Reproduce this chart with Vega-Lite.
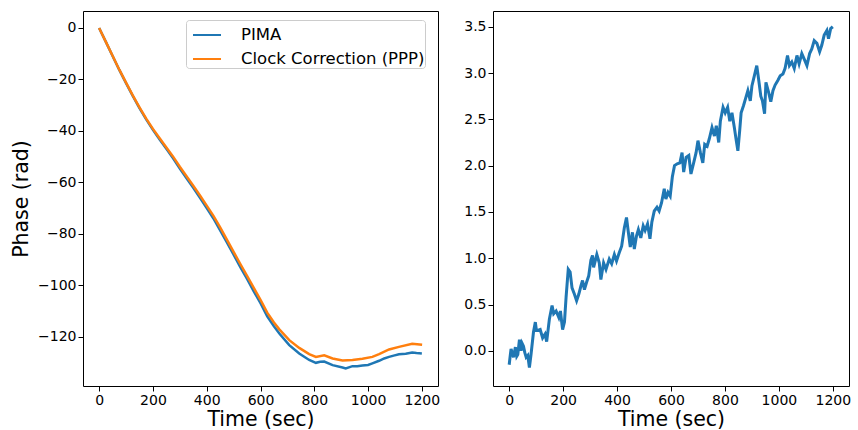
{
  "$schema": "https://vega.github.io/schema/vega-lite/v6.json",
  "padding": {"left": 11, "top": 10, "right": 5, "bottom": 3},
  "background": "white",
  "config": {
    "font": "DejaVu Sans",
    "view": {"stroke": "black", "strokeWidth": 1},
    "axis": {
      "domain": false, "grid": false, "tickColor": "black", "tickSize": 5, "tickWidth": 1,
      "labelFontSize": 14, "labelColor": "black", "labelFont": "DejaVu Sans",
      "titleFont": "DejaVu Sans", "titleFontSize": 20.5, "titleFontWeight": "normal", "titleColor": "black",
      "labelPadding": 2, "labelFlush": false, "labelOverlap": false
    }
  },
  "spacing": 55,
  "bounds": "flush",
  "hconcat": [
    {
      "width": 355,
      "height": 375,
      "data": {"values": [
        {"t": 0, "phase": 0, "series": "PIMA"},
        {"t": 25, "phase": -5.4, "series": "PIMA"},
        {"t": 50, "phase": -10.9, "series": "PIMA"},
        {"t": 75, "phase": -16.3, "series": "PIMA"},
        {"t": 100, "phase": -21.4, "series": "PIMA"},
        {"t": 125, "phase": -26.4, "series": "PIMA"},
        {"t": 150, "phase": -31.1, "series": "PIMA"},
        {"t": 175, "phase": -35.5, "series": "PIMA"},
        {"t": 200, "phase": -39.6, "series": "PIMA"},
        {"t": 225, "phase": -43.3, "series": "PIMA"},
        {"t": 250, "phase": -46.9, "series": "PIMA"},
        {"t": 275, "phase": -50.6, "series": "PIMA"},
        {"t": 300, "phase": -54.6, "series": "PIMA"},
        {"t": 325, "phase": -58.4, "series": "PIMA"},
        {"t": 350, "phase": -62.1, "series": "PIMA"},
        {"t": 375, "phase": -66.0, "series": "PIMA"},
        {"t": 400, "phase": -70.0, "series": "PIMA"},
        {"t": 425, "phase": -74.0, "series": "PIMA"},
        {"t": 450, "phase": -78.6, "series": "PIMA"},
        {"t": 475, "phase": -83.3, "series": "PIMA"},
        {"t": 500, "phase": -88.1, "series": "PIMA"},
        {"t": 525, "phase": -92.9, "series": "PIMA"},
        {"t": 550, "phase": -97.5, "series": "PIMA"},
        {"t": 575, "phase": -102.3, "series": "PIMA"},
        {"t": 600, "phase": -106.9, "series": "PIMA"},
        {"t": 625, "phase": -112.0, "series": "PIMA"},
        {"t": 650, "phase": -115.9, "series": "PIMA"},
        {"t": 670, "phase": -118.7, "series": "PIMA"},
        {"t": 707, "phase": -123.2, "series": "PIMA"},
        {"t": 744, "phase": -126.5, "series": "PIMA"},
        {"t": 781, "phase": -129.0, "series": "PIMA"},
        {"t": 806, "phase": -130.1, "series": "PIMA"},
        {"t": 822, "phase": -129.7, "series": "PIMA"},
        {"t": 837, "phase": -129.6, "series": "PIMA"},
        {"t": 868, "phase": -131.0, "series": "PIMA"},
        {"t": 905, "phase": -131.9, "series": "PIMA"},
        {"t": 917, "phase": -132.3, "series": "PIMA"},
        {"t": 942, "phase": -131.4, "series": "PIMA"},
        {"t": 960, "phase": -131.4, "series": "PIMA"},
        {"t": 979, "phase": -131.1, "series": "PIMA"},
        {"t": 1000, "phase": -130.9, "series": "PIMA"},
        {"t": 1016, "phase": -130.3, "series": "PIMA"},
        {"t": 1041, "phase": -129.3, "series": "PIMA"},
        {"t": 1060, "phase": -128.4, "series": "PIMA"},
        {"t": 1078, "phase": -127.8, "series": "PIMA"},
        {"t": 1095, "phase": -127.3, "series": "PIMA"},
        {"t": 1115, "phase": -126.8, "series": "PIMA"},
        {"t": 1140, "phase": -126.6, "series": "PIMA"},
        {"t": 1164, "phase": -126.1, "series": "PIMA"},
        {"t": 1180, "phase": -126.3, "series": "PIMA"},
        {"t": 1200, "phase": -126.5, "series": "PIMA"},
        {"t": 0, "phase": 0, "series": "Clock Correction (PPP)"},
        {"t": 25, "phase": -5.4, "series": "Clock Correction (PPP)"},
        {"t": 50, "phase": -10.8, "series": "Clock Correction (PPP)"},
        {"t": 75, "phase": -16.2, "series": "Clock Correction (PPP)"},
        {"t": 100, "phase": -21.2, "series": "Clock Correction (PPP)"},
        {"t": 125, "phase": -26.2, "series": "Clock Correction (PPP)"},
        {"t": 150, "phase": -30.8, "series": "Clock Correction (PPP)"},
        {"t": 175, "phase": -35.2, "series": "Clock Correction (PPP)"},
        {"t": 200, "phase": -39.2, "series": "Clock Correction (PPP)"},
        {"t": 225, "phase": -42.8, "series": "Clock Correction (PPP)"},
        {"t": 250, "phase": -46.4, "series": "Clock Correction (PPP)"},
        {"t": 275, "phase": -50.0, "series": "Clock Correction (PPP)"},
        {"t": 300, "phase": -53.9, "series": "Clock Correction (PPP)"},
        {"t": 325, "phase": -57.6, "series": "Clock Correction (PPP)"},
        {"t": 350, "phase": -61.3, "series": "Clock Correction (PPP)"},
        {"t": 375, "phase": -65.1, "series": "Clock Correction (PPP)"},
        {"t": 400, "phase": -69.0, "series": "Clock Correction (PPP)"},
        {"t": 425, "phase": -73.0, "series": "Clock Correction (PPP)"},
        {"t": 450, "phase": -77.5, "series": "Clock Correction (PPP)"},
        {"t": 475, "phase": -82.2, "series": "Clock Correction (PPP)"},
        {"t": 500, "phase": -87.0, "series": "Clock Correction (PPP)"},
        {"t": 525, "phase": -91.7, "series": "Clock Correction (PPP)"},
        {"t": 550, "phase": -96.3, "series": "Clock Correction (PPP)"},
        {"t": 575, "phase": -101.0, "series": "Clock Correction (PPP)"},
        {"t": 600, "phase": -105.6, "series": "Clock Correction (PPP)"},
        {"t": 625, "phase": -110.6, "series": "Clock Correction (PPP)"},
        {"t": 650, "phase": -114.4, "series": "Clock Correction (PPP)"},
        {"t": 670, "phase": -117.1, "series": "Clock Correction (PPP)"},
        {"t": 707, "phase": -121.3, "series": "Clock Correction (PPP)"},
        {"t": 744, "phase": -124.3, "series": "Clock Correction (PPP)"},
        {"t": 781, "phase": -126.7, "series": "Clock Correction (PPP)"},
        {"t": 806, "phase": -127.8, "series": "Clock Correction (PPP)"},
        {"t": 837, "phase": -127.2, "series": "Clock Correction (PPP)"},
        {"t": 868, "phase": -128.4, "series": "Clock Correction (PPP)"},
        {"t": 905, "phase": -129.2, "series": "Clock Correction (PPP)"},
        {"t": 942, "phase": -129.0, "series": "Clock Correction (PPP)"},
        {"t": 979, "phase": -128.5, "series": "Clock Correction (PPP)"},
        {"t": 1016, "phase": -127.8, "series": "Clock Correction (PPP)"},
        {"t": 1041, "phase": -126.7, "series": "Clock Correction (PPP)"},
        {"t": 1078, "phase": -124.9, "series": "Clock Correction (PPP)"},
        {"t": 1115, "phase": -123.9, "series": "Clock Correction (PPP)"},
        {"t": 1164, "phase": -122.7, "series": "Clock Correction (PPP)"},
        {"t": 1201, "phase": -123.1, "series": "Clock Correction (PPP)"}
      ]},
      "encoding": {
        "x": {"field": "t", "type": "quantitative", "scale": {"domain": [-60, 1260], "nice": false, "zero": false},
              "axis": {"values": [0, 200, 400, 600, 800, 1000, 1200], "format": "d", "title": "Time (sec)", "titlePadding": 2}},
        "y": {"field": "phase", "type": "quantitative", "scale": {"domain": [-139.1, 6.6], "nice": false, "zero": false},
              "axis": {"values": [0, -20, -40, -60, -80, -100, -120], "title": "Phase (rad)", "titlePadding": 6}},
        "color": {"field": "series", "type": "nominal",
                  "scale": {"domain": ["PIMA", "Clock Correction (PPP)"], "range": ["#1f77b4", "#ff7f0e"]},
                  "legend": {"title": null, "orient": "none", "legendX": 103, "legendY": 9,
                             "symbolType": "stroke", "symbolSize": 784, "symbolStrokeWidth": 2, "symbolOffset": 6,
                             "labelFontSize": 16.5, "labelFont": "DejaVu Sans", "labelColor": "black", "labelLimit": 400,
                             "labelExpr": "datum.label + ' '",
                             "labelOffset": 19, "rowPadding": 0, "padding": 0,
                             "strokeColor": "#cccccc", "fillColor": "white", "cornerRadius": 3}}
      },
      "layer": [
        {"transform": [{"filter": "datum.series === 'PIMA'"}], "mark": {"type": "line", "strokeWidth": 2.5}},
        {"transform": [{"filter": "datum.series !== 'PIMA'"}], "mark": {"type": "line", "strokeWidth": 2.5}}
      ]
    },
    {
      "width": 356,
      "height": 375,
      "data": {"values": [
        {"t": 0, "v": -0.15}, {"t": 4, "v": -0.05}, {"t": 7, "v": 0.02}, {"t": 12, "v": -0.03}, {"t": 16, "v": -0.07},
        {"t": 23, "v": 0.04}, {"t": 28, "v": -0.06}, {"t": 32, "v": -0.04}, {"t": 38, "v": 0.12}, {"t": 44, "v": 0.0},
        {"t": 48, "v": 0.08}, {"t": 53, "v": 0.05}, {"t": 58, "v": -0.02}, {"t": 63, "v": -0.07}, {"t": 69, "v": -0.05},
        {"t": 75, "v": -0.18}, {"t": 81, "v": -0.04}, {"t": 90, "v": 0.2}, {"t": 97, "v": 0.31}, {"t": 101, "v": 0.22},
        {"t": 106, "v": 0.22}, {"t": 115, "v": 0.23}, {"t": 124, "v": 0.14}, {"t": 133, "v": 0.18}, {"t": 139, "v": 0.1},
        {"t": 149, "v": 0.34}, {"t": 159, "v": 0.49}, {"t": 165, "v": 0.4}, {"t": 174, "v": 0.43}, {"t": 184, "v": 0.36},
        {"t": 190, "v": 0.43}, {"t": 198, "v": 0.23}, {"t": 205, "v": 0.31}, {"t": 211, "v": 0.58}, {"t": 219, "v": 0.88},
        {"t": 226, "v": 0.85}, {"t": 233, "v": 0.68}, {"t": 242, "v": 0.61}, {"t": 250, "v": 0.54}, {"t": 258, "v": 0.61},
        {"t": 266, "v": 0.7}, {"t": 272, "v": 0.76}, {"t": 279, "v": 0.66}, {"t": 287, "v": 0.74}, {"t": 295, "v": 0.81},
        {"t": 303, "v": 0.98}, {"t": 309, "v": 1.03}, {"t": 313, "v": 0.9}, {"t": 325, "v": 1.04}, {"t": 334, "v": 0.95},
        {"t": 340, "v": 0.77}, {"t": 350, "v": 0.95}, {"t": 359, "v": 0.88}, {"t": 371, "v": 0.99}, {"t": 380, "v": 0.94},
        {"t": 390, "v": 1.04}, {"t": 398, "v": 0.97}, {"t": 408, "v": 1.06}, {"t": 417, "v": 1.13}, {"t": 427, "v": 1.33},
        {"t": 435, "v": 1.44}, {"t": 441, "v": 1.3}, {"t": 449, "v": 1.12}, {"t": 457, "v": 1.28}, {"t": 464, "v": 1.1},
        {"t": 472, "v": 1.24}, {"t": 479, "v": 1.31}, {"t": 488, "v": 1.22}, {"t": 497, "v": 1.35}, {"t": 504, "v": 1.3},
        {"t": 513, "v": 1.37}, {"t": 522, "v": 1.21}, {"t": 529, "v": 1.39}, {"t": 538, "v": 1.51}, {"t": 548, "v": 1.55},
        {"t": 556, "v": 1.51}, {"t": 565, "v": 1.6}, {"t": 575, "v": 1.75}, {"t": 581, "v": 1.64}, {"t": 589, "v": 1.71},
        {"t": 597, "v": 1.67}, {"t": 605, "v": 1.88}, {"t": 613, "v": 2.0}, {"t": 623, "v": 2.02}, {"t": 633, "v": 2.03},
        {"t": 641, "v": 2.14}, {"t": 647, "v": 1.93}, {"t": 656, "v": 2.09}, {"t": 666, "v": 2.11}, {"t": 674, "v": 1.91},
        {"t": 684, "v": 2.03}, {"t": 693, "v": 2.14}, {"t": 700, "v": 2.27}, {"t": 709, "v": 2.14}, {"t": 718, "v": 2.03},
        {"t": 725, "v": 2.23}, {"t": 734, "v": 2.21}, {"t": 742, "v": 2.29}, {"t": 752, "v": 2.41}, {"t": 761, "v": 2.32},
        {"t": 768, "v": 2.43}, {"t": 777, "v": 2.25}, {"t": 783, "v": 2.48}, {"t": 793, "v": 2.63}, {"t": 801, "v": 2.57},
        {"t": 810, "v": 2.63}, {"t": 818, "v": 2.48}, {"t": 826, "v": 2.57}, {"t": 835, "v": 2.41}, {"t": 842, "v": 2.27},
        {"t": 848, "v": 2.16}, {"t": 855, "v": 2.39}, {"t": 860, "v": 2.57}, {"t": 869, "v": 2.65}, {"t": 878, "v": 2.74},
        {"t": 885, "v": 2.81}, {"t": 894, "v": 2.7}, {"t": 900, "v": 2.86}, {"t": 909, "v": 2.97}, {"t": 918, "v": 3.08},
        {"t": 925, "v": 2.93}, {"t": 933, "v": 2.75}, {"t": 939, "v": 2.7}, {"t": 947, "v": 2.56}, {"t": 952, "v": 2.9},
        {"t": 962, "v": 2.79}, {"t": 970, "v": 2.69}, {"t": 978, "v": 2.81}, {"t": 986, "v": 2.87}, {"t": 996, "v": 2.92},
        {"t": 1005, "v": 2.97}, {"t": 1015, "v": 2.99}, {"t": 1023, "v": 3.05}, {"t": 1032, "v": 3.19}, {"t": 1039, "v": 3.08},
        {"t": 1048, "v": 3.12}, {"t": 1057, "v": 3.05}, {"t": 1067, "v": 3.19}, {"t": 1075, "v": 3.1}, {"t": 1085, "v": 3.21},
        {"t": 1094, "v": 3.15}, {"t": 1104, "v": 3.08}, {"t": 1114, "v": 3.21}, {"t": 1122, "v": 3.26}, {"t": 1131, "v": 3.35},
        {"t": 1141, "v": 3.32}, {"t": 1151, "v": 3.23}, {"t": 1159, "v": 3.3}, {"t": 1168, "v": 3.41}, {"t": 1178, "v": 3.46},
        {"t": 1184, "v": 3.37}, {"t": 1192, "v": 3.48}, {"t": 1200, "v": 3.5}
      ]},
      "mark": {"type": "line", "strokeWidth": 3, "color": "#1f77b4"},
      "encoding": {
        "x": {"field": "t", "type": "quantitative", "scale": {"domain": [-60, 1260], "nice": false, "zero": false},
              "axis": {"values": [0, 200, 400, 600, 800, 1000, 1200], "format": "d", "title": "Time (sec)", "titlePadding": 2}},
        "y": {"field": "v", "type": "quantitative", "scale": {"domain": [-0.38, 3.67], "nice": false, "zero": false},
              "axis": {"values": [0, 0.5, 1, 1.5, 2, 2.5, 3, 3.5], "format": ".1f", "title": null}}
      }
    }
  ]
}
